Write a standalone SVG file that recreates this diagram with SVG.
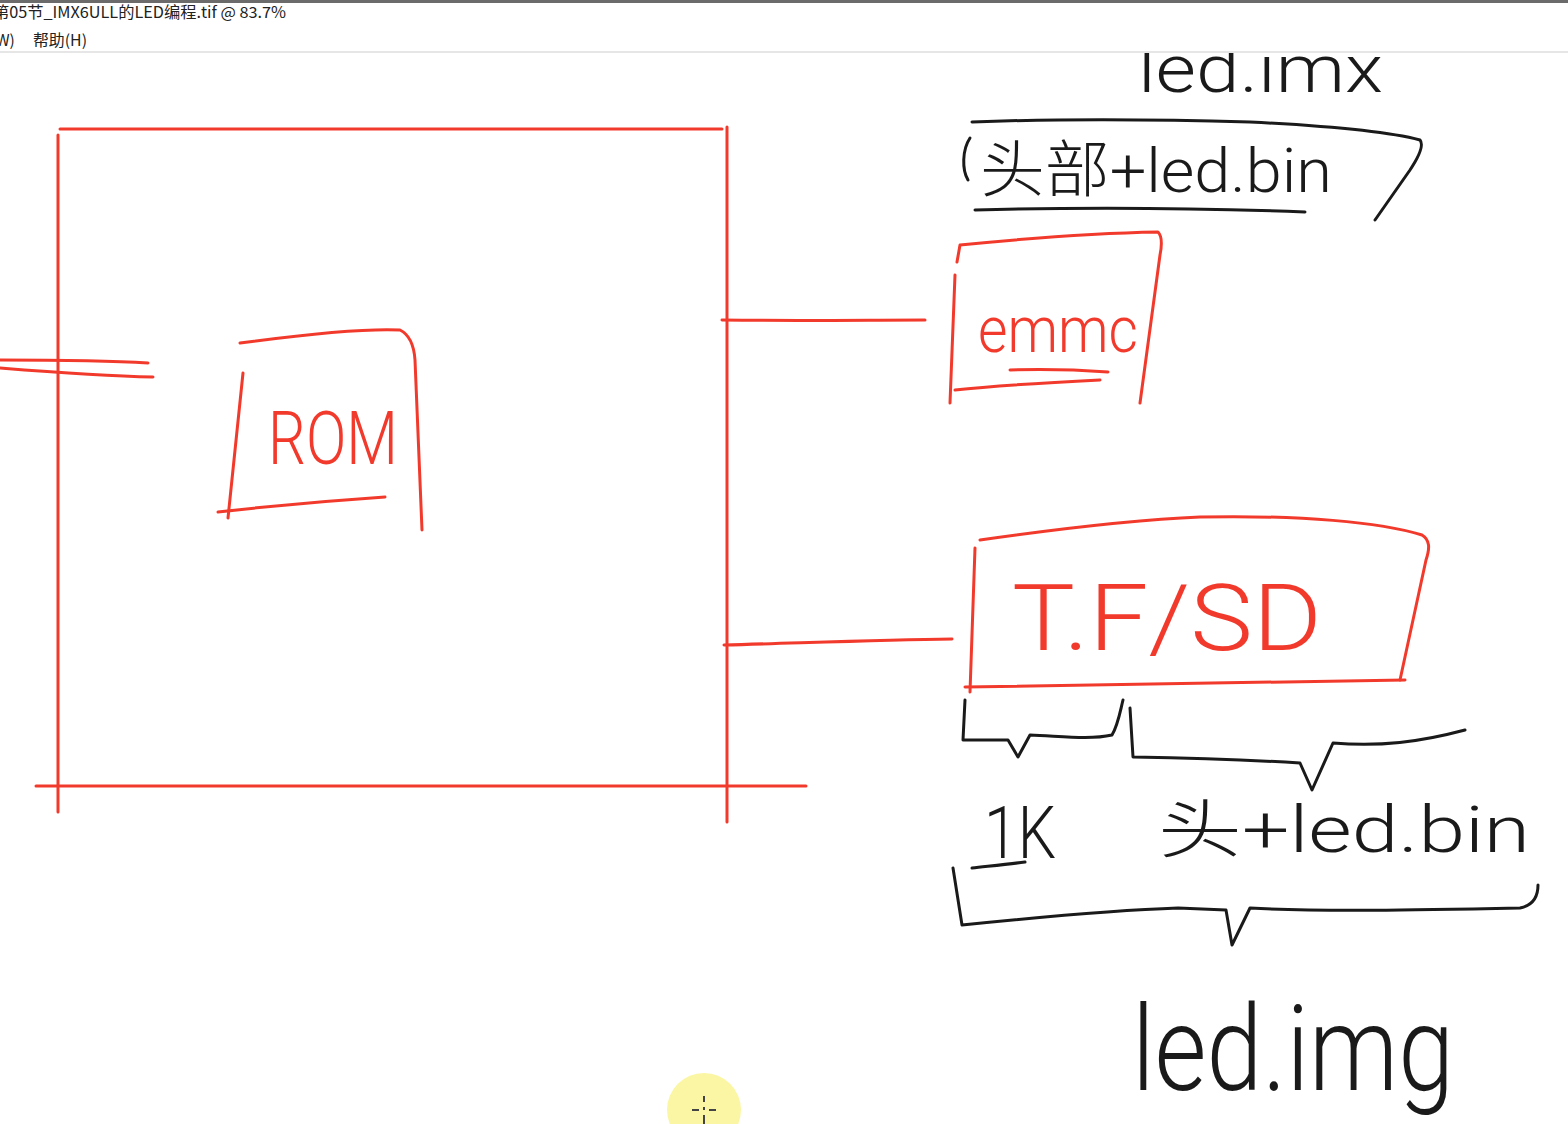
<svg xmlns="http://www.w3.org/2000/svg" width="1568" height="1124" viewBox="0 0 1568 1124">
<style>
.r{fill:none;stroke:#f23a2c;stroke-width:3;stroke-linecap:round;stroke-linejoin:round}
.k{fill:none;stroke:#1a1a1a;stroke-width:3;stroke-linecap:round;stroke-linejoin:round}
.tr{fill:#f23a2c;font-family:Roboto,"Noto Sans CJK SC",sans-serif;font-weight:300}
.tk{fill:#1a1a1a;font-family:Roboto,"Noto Sans CJK SC",sans-serif;font-weight:300}
.ui{fill:#222;font-family:"Noto Sans CJK SC","Liberation Sans",sans-serif;font-size:15.5px}
</style>
<defs>
<clipPath id="canvas"><rect x="0" y="53" width="1568" height="1071"/></clipPath>
</defs>
<rect width="1568" height="1124" fill="#ffffff"/>
<!-- window chrome -->
<g id="chrome">
<rect x="0" y="0" width="1568" height="3" fill="#6b6b6b"/>
<text class="ui" x="-7" y="18" textLength="293" lengthAdjust="spacingAndGlyphs">第05节_IMX6ULL的LED编程.tif @ 83.7%</text>
<text class="ui" x="-4" y="46">W)</text>
<text class="ui" x="33" y="46" textLength="54" lengthAdjust="spacingAndGlyphs">帮助(H)</text>
<line x1="0" y1="52" x2="1568" y2="52" stroke="#e6e6e6" stroke-width="2"/>
</g>
<g clip-path="url(#canvas)">
<!-- SoC chip -->
<g id="chip">
<path class="r" d="M60 129 L722 129"/>
<path class="r" d="M58 135 L58 812"/>
<path class="r" d="M727 127 L727 822"/>
<path class="r" d="M36 786 L806 786"/>
</g>
<g id="rom">
<path class="r" d="M240 343 C300 335 360 328 400 330 C410 335 414 345 415 360 L422 530"/>
<path class="r" d="M243 373 L228 518"/>
<path class="r" d="M218 512 C280 505 340 500 385 497"/>
<text class="tr" x="268" y="464" font-size="74" textLength="130" lengthAdjust="spacingAndGlyphs">ROM</text>
</g>
<g id="emmc">
<path class="r" d="M957 262 L960 245 C1030 238 1100 233 1158 232 C1162 236 1162 245 1160 255 L1140 403"/>
<path class="r" d="M955 275 L950 403"/>
<path class="r" d="M955 390 C1000 385 1060 382 1100 380"/>
<path class="r" d="M1010 370 C1040 369 1080 370 1108 372"/>
<text class="tr" x="978" y="352" font-size="64" textLength="160" lengthAdjust="spacingAndGlyphs">emmc</text>
</g>
<g id="tfsd">
<path class="r" d="M980 540 C1050 530 1130 520 1200 517 C1300 515 1380 522 1422 535 C1430 540 1430 548 1426 560 L1400 680"/>
<path class="r" d="M975 548 L970 692"/>
<path class="r" d="M965 687 C1100 684 1250 682 1405 680"/>
<text class="tr" x="1012" y="650" font-size="92" textLength="310" lengthAdjust="spacingAndGlyphs">T.F/SD</text>
</g>
<g id="connectors">
<path class="r" d="M0 360 C50 360 100 360 148 363"/>
<path class="r" d="M0 368 C50 372 100 376 153 377"/>
<path class="r" d="M722 320 C800 321 870 320 925 320"/>
<path class="r" d="M724 645 C800 643 880 640 952 639"/>
</g>
<g id="led-imx">
<text class="tk" x="1138" y="92" font-size="66" textLength="245" lengthAdjust="spacingAndGlyphs">led.imx</text>
</g>
<g id="header-bin">
<path class="k" d="M972 122 C1050 119 1150 119 1250 122 C1330 126 1390 132 1420 140 C1424 145 1420 155 1410 170 L1375 220"/>
<path class="k" d="M970 138 C962 150 962 170 968 180"/>
<path class="k" d="M975 210 C1080 207 1200 208 1305 212"/>
<text class="tk" x="980" y="192" font-size="62" textLength="352" lengthAdjust="spacingAndGlyphs">头部+led.bin</text>
</g>
<g id="braces">
<path class="k" d="M965 700 L963 740 L1008 740 L1018 757 L1030 735 C1060 736 1090 740 1112 735 C1118 725 1120 712 1123 700"/>
<path class="k" d="M1130 708 L1133 757 C1190 758 1250 760 1300 763 L1312 790 L1333 743 C1380 747 1420 742 1465 730"/>
<path class="k" d="M953 868 L962 925 C1040 917 1120 910 1178 908 L1226 910 L1232 945 L1250 908 C1320 912 1420 910 1520 908 C1535 905 1538 895 1538 885"/>
</g>
<g id="one-k">
<text class="tk" x="984" y="858" font-size="72" textLength="72" lengthAdjust="spacingAndGlyphs">1K</text>
<path class="k" d="M972 868 C990 866 1010 864 1025 862"/>
</g>
<g id="head-bin">
<text class="tk" x="1158" y="852" font-size="64" textLength="372" lengthAdjust="spacingAndGlyphs">头+led.bin</text>
</g>
<g id="led-img">
<text class="tk" x="1132" y="1090" font-size="118" textLength="322" lengthAdjust="spacingAndGlyphs">led.img</text>
</g>
</g>
<!-- cursor highlight -->
<g id="cursor">
<circle cx="704" cy="1110" r="37" fill="#fbf59a" fill-opacity="0.9"/>
<path d="M704 1096 V1102 M704 1107 V1110 M704 1115 V1124 M692 1110 H699 M709 1110 H716" stroke="#444" stroke-width="2"/>
</g>
</svg>
